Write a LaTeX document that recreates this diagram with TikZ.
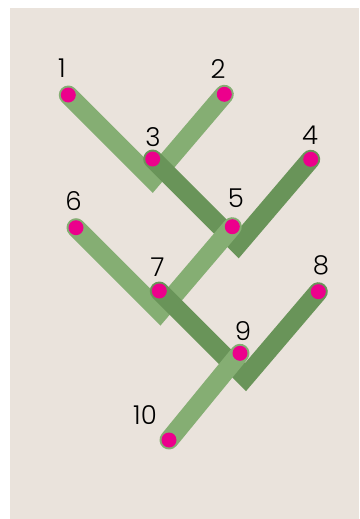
\documentclass[tikz,border=0pt]{standalone}
\usepackage{fontspec}
\setmainfont{Poppins Light}
\definecolor{bgc}{HTML}{EAE3DC}
\definecolor{lightg}{HTML}{85AE73}
\definecolor{darkg}{HTML}{699459}
\definecolor{dotc}{HTML}{EC008C}
\begin{document}
\begin{tikzpicture}[x=1pt,y=-1pt,
  lightbar/.style={draw=lightg,line width=19pt,line cap=round,line join=miter},
  darkbar/.style={draw=darkg,line width=19pt,line cap=round,line join=miter},
  dotnode/.style={circle,fill=dotc,inner sep=0pt,minimum size=15pt},
  lbl/.style={font=\fontsize{26}{26}\selectfont,inner sep=0pt,text=black}]
\useasboundingbox (0,0) rectangle (359,519);
\fill[bgc] (10,8) rectangle (359,519);
% dot positions
\coordinate (p1) at (68.3,95);
\coordinate (p2) at (224.3,94.3);
\coordinate (p3) at (152.7,159);
\coordinate (p4) at (310.7,159.3);
\coordinate (p5) at (232.3,226.7);
\coordinate (p6) at (76,227.7);
\coordinate (p7) at (159.3,291);
\coordinate (p8) at (318.3,291.7);
\coordinate (p9) at (240,353.3);
\coordinate (p10) at (169,440);
% fold points
\coordinate (c3) at (152.2,178.9);
\coordinate (c5) at (238.1,244.4);
\coordinate (c7) at (159.9,311.6);
\coordinate (c9) at (245.4,377.2);
% bars
\draw[lightbar] (p1) -- (c3) -- (p2);
\draw[darkbar] (p3) -- (c5) -- (p4);
\draw[lightbar] (p6) -- (c7) -- (p5);
\draw[darkbar] (p7) -- (c9) -- (p8);
\draw[lightbar] (p9) -- (p10);
% dots
\foreach \i in {1,...,10} \node[dotnode] (d\i) at (p\i) {};
% labels
\node[lbl] (l1) at (62,68) {1};
\node[lbl] (l2) at (218,69) {2};
\node[lbl] (l3) at (153,137) {3};
\node[lbl] (l4) at (310,135.5) {4};
\node[lbl] (l5) at (236,198) {5};
\node[lbl] (l6) at (73.5,201.5) {6};
\node[lbl] (l7) at (157.5,267) {7};
\node[lbl] (l8) at (321,265) {8};
\node[lbl] (l9) at (243,331) {9};
\node[lbl] (l10) at (145,415) {10};
\end{tikzpicture}
\end{document}
